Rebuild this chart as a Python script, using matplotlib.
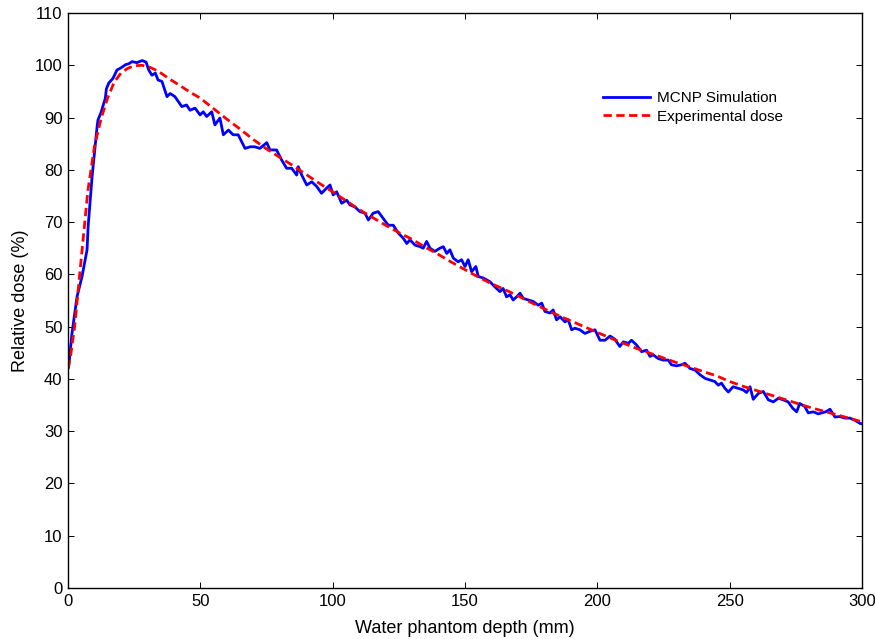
import matplotlib
matplotlib.use("Agg")
import matplotlib.pyplot as plt
from matplotlib import font_manager

# ---- data ----
mcnp_depth = [0, 0.25, 1.5, 3.4, 5.3, 7.2, 7.6, 9.1, 11.0, 11.3, 12.5, 14.1, 14.5, 15.4, 17.0, 18.5,
              20.0, 21.7, 23.0, 24.2, 26.0, 28.0, 29.5, 30.5, 31.7, 33.0, 34.0, 35.5, 37.4, 38.6,
              40.4, 43.0, 44.8, 46.1, 48.0, 49.9, 51.1, 52.4, 54.3, 55.5, 57.4, 58.7, 60.6, 62.4,
              64.3, 65.6, 66.9, 68.8, 70.6, 72.5, 75.1, 76.3, 78.8, 80.7, 82.6, 84.5, 86.4, 87.0,
              88.3, 90.2, 92.1, 94.0, 95.8, 97.7, 99.0, 100.2, 101.5, 103.4, 105.3, 106.5, 108.4,
              110.3, 112.2, 113.5, 115.3, 117.2, 119.1, 121.0, 122.9, 124.8, 126.7, 128.0, 129.2,
              131.1, 133.0, 134.2, 135.5, 136.8, 138.6, 140.5, 141.8, 143.1, 144.3, 145.6, 147.4,
              148.7, 150.0, 151.2, 152.5, 154.1, 155.0, 156.9, 159.4, 161.3, 163.2, 164.4, 165.7,
              167.0, 168.2, 169.5, 170.8, 172.0, 173.9, 175.8, 177.7, 179.0, 180.2, 182.1, 183.3,
              184.6, 185.9, 187.8, 189.0, 190.3, 191.5, 193.4, 195.3, 197.2, 199.1, 201.0, 202.9,
              204.8, 206.6, 208.5, 209.8, 211.7, 212.9, 214.8, 216.7, 218.6, 219.9, 221.1, 223.0,
              224.9, 226.8, 228.0, 229.9, 231.8, 233.1, 235.0, 236.9, 238.8, 240.7, 242.5, 244.4,
              245.7, 246.9, 248.2, 249.5, 251.3, 253.2, 255.1, 256.4, 257.7, 258.9, 260.8, 262.7,
              264.6, 266.5, 268.4, 270.2, 272.1, 273.8, 275.3, 276.5, 278.4, 279.7, 281.6, 283.5,
              284.7, 286.3, 287.9, 289.8, 291.6, 293.5, 295.4, 297.3, 299.2, 300.0]
mcnp_dose = [42.0, 42.3, 48.7, 55.7, 59.6, 64.7, 69.1, 78.7, 88.3, 89.5, 91.0, 93.7, 95.5, 96.6, 97.5, 99.1,
             99.5, 100.1, 100.3, 100.7, 100.5, 100.9, 100.6, 99.1, 98.1, 98.5, 97.2, 96.9, 94.0, 94.6,
             94.0, 92.1, 92.4, 91.4, 91.8, 90.5, 91.1, 90.2, 91.1, 88.6, 89.9, 86.7, 87.6, 86.7,
             86.7, 85.4, 84.1, 84.4, 84.4, 84.1, 85.2, 83.8, 83.8, 81.9, 80.3, 80.3, 79.0, 80.6,
             79.0, 77.1, 77.7, 76.8, 75.5, 76.5, 77.1, 75.2, 75.8, 73.6, 74.2, 73.3, 72.9,
             72.0, 71.7, 70.4, 71.7, 72.0, 70.7, 69.4, 69.4, 67.9, 66.9, 65.9, 66.6,
             65.6, 65.3, 65.0, 66.3, 65.0, 64.4, 65.0, 65.3, 64.0, 64.7, 63.1, 62.4,
             62.8, 61.5, 62.8, 60.5, 61.5, 59.6, 59.3, 58.6, 57.6, 56.7, 57.3, 55.7,
             56.1, 55.1, 55.7, 56.4, 55.4, 55.1, 54.8, 54.1, 54.5, 52.9, 52.6, 53.2,
             51.3, 51.9, 50.9, 51.3, 49.4, 49.7, 49.4, 48.7, 49.1, 49.4, 47.4, 47.4,
             48.2, 47.6, 46.2, 47.1, 46.8, 47.4, 46.5, 45.2, 45.5, 44.3, 44.6, 43.9,
             43.6, 43.6, 42.7, 42.5, 42.7, 43.0, 42.0, 41.7, 40.8, 40.1, 39.8, 39.5,
             38.8, 39.2, 38.2, 37.5, 38.5, 38.2, 37.9, 37.4, 38.5, 36.1, 37.2, 37.6,
             36.0, 35.6, 36.3, 36.0, 35.6, 34.4, 33.7, 35.3, 34.7, 33.5, 33.7, 33.3,
             33.5, 33.7, 34.2, 32.7, 32.8, 32.5, 32.5, 32.1, 31.5, 31.4]

exp_depth = [0, 1, 2.5, 5, 7.5, 10, 12.5, 15, 17.5, 20, 22.5, 25, 28, 31, 34, 38, 42, 46, 50, 55,
             60, 65, 70, 75, 80, 85, 90, 95, 100, 105, 110, 115, 120, 125, 130, 135, 140, 145,
             150, 155, 160, 165, 170, 175, 180, 185, 190, 195, 200, 205, 210, 215, 220, 225,
             230, 235, 240, 245, 250, 255, 260, 265, 270, 275, 280, 285, 290, 295, 300]
exp_dose = [42.0, 44.5, 50.0, 63.0, 76.0, 84.5, 89.8, 93.8, 96.8, 98.5, 99.4, 99.9, 100.0, 99.6,
            98.9, 97.5, 96.2, 94.9, 93.7, 91.7, 89.7, 87.8, 85.8, 84.0, 82.4, 80.8, 79.1, 77.4,
            75.8, 74.1, 72.4, 70.9, 69.4, 68.0, 66.7, 65.2, 63.8, 62.3, 60.9, 59.5, 58.2, 57.1,
            55.9, 54.6, 53.4, 52.2, 51.1, 50.0, 48.9, 47.8, 46.8, 45.8, 44.9, 44.0, 43.1, 42.3,
            41.4, 40.6, 39.5, 38.6, 37.8, 37.0, 36.2, 35.4, 34.6, 33.9, 33.2, 32.5, 31.8]

x_ticks = [0, 50, 100, 150, 200, 250, 300]
y_ticks = [0, 10, 20, 30, 40, 50, 60, 70, 80, 90, 100, 110]

# ---- fonts ----
names = {f.name for f in font_manager.fontManager.ttflist}
narrow = 'Liberation Sans Narrow' if 'Liberation Sans Narrow' in names else 'Liberation Sans'
plt.rcParams['font.family'] = [narrow, 'DejaVu Sans']

fig = plt.figure(figsize=(8.75, 6.39), dpi=100)
ax = fig.add_axes([68 / 875, 51 / 639, 794 / 875, 575 / 639])

ax.plot(mcnp_depth, mcnp_dose, color='#0000ff', lw=2.0, label='MCNP Simulation')
ax.plot(exp_depth, exp_dose, color='#ff0000', lw=2.0, ls=(0, (3, 1.6)), label='Experimental dose')

ax.set_xlim(0, 300)
ax.set_ylim(0, 110)
ax.set_xticks(x_ticks)
ax.set_yticks(y_ticks)
ax.tick_params(direction='in', length=4, width=0.7, top=True, right=True, labelsize=12, pad=4)
for s in ax.spines.values():
    s.set_linewidth(1.0)

ax.set_xlabel('Water phantom depth (mm)', fontsize=13, labelpad=8)
ax.set_ylabel('Relative dose (%)', fontsize=13, labelpad=4)

leg = ax.legend(loc='upper left', bbox_to_anchor=(0.656, 0.888), frameon=False,
                prop={'family': 'Liberation Sans', 'size': 11}, handlelength=3.1,
                handletextpad=0.45, labelspacing=0.3)

fig.savefig('out.png', dpi=100)
